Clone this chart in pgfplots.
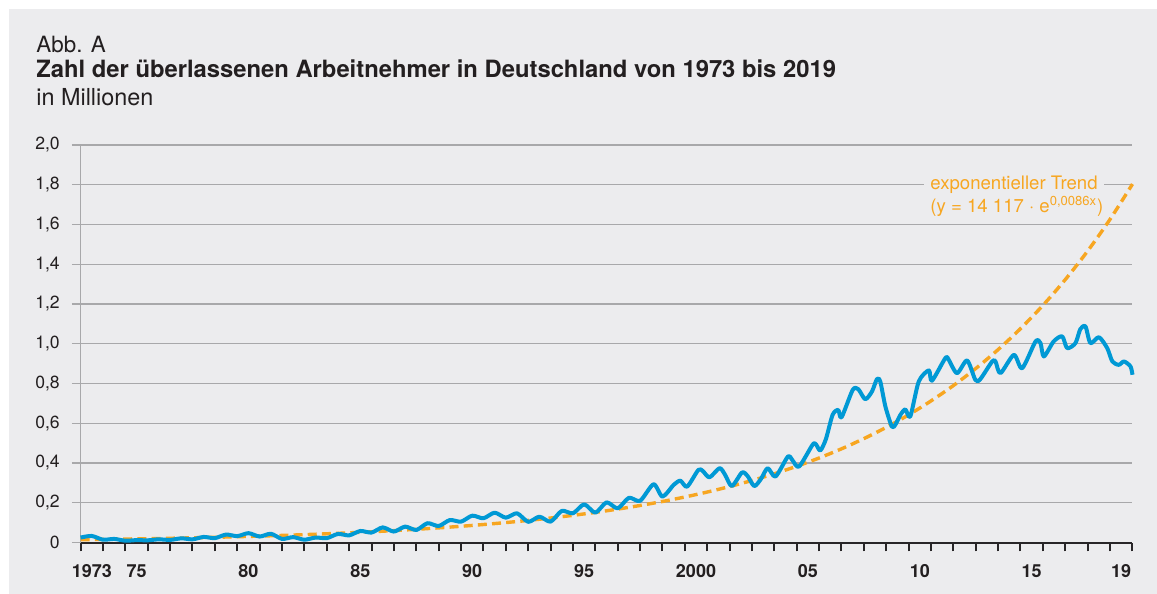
\documentclass[border=0pt]{standalone}
\usepackage{pgfplots}
\pgfplotsset{compat=1.18}
\usepackage{fontspec}
\setmainfont{TeX Gyre Heros}

\definecolor{panel}{RGB}{236,236,238}
\definecolor{gridgray}{RGB}{168,168,170}
\definecolor{axisdark}{RGB}{40,38,40}
\definecolor{textdark}{RGB}{35,31,32}
\definecolor{lineblue}{RGB}{0,153,213}
\definecolor{trendorange}{RGB}{247,166,33}

\pgfplotstableread{
x y
1973.0 0.025
1973.5 0.033
1974.0 0.014
1974.5 0.018
1975.0 0.009
1975.5 0.012
1976.0 0.011
1976.5 0.016
1977.0 0.013
1977.5 0.021
1978.0 0.016
1978.5 0.028
1979.0 0.022
1979.5 0.040
1980.0 0.032
1980.5 0.047
1981.0 0.030
1981.5 0.044
1982.0 0.018
1982.5 0.027
1983.0 0.014
1983.5 0.025
1984.0 0.022
1984.5 0.043
1985.0 0.036
1985.5 0.058
1986.0 0.050
1986.5 0.076
1987.0 0.055
1987.5 0.080
1988.0 0.063
1988.5 0.097
1989.0 0.083
1989.5 0.113
1990.0 0.105
1990.5 0.135
1991.0 0.122
1991.5 0.150
1992.0 0.125
1992.5 0.147
1993.0 0.104
1993.5 0.130
1994.0 0.105
1994.5 0.159
1995.0 0.147
1995.5 0.192
1996.0 0.150
1996.5 0.202
1997.0 0.172
1997.5 0.225
1998.0 0.210
1998.6 0.293
1999.0 0.231
1999.5 0.290
1999.8 0.311
2000.1 0.281
2000.6 0.365
2000.8 0.360
2001.1 0.328
2001.55 0.374
2001.8 0.340
2002.1 0.284
2002.55 0.352
2002.8 0.335
2003.1 0.284
2003.4 0.320
2003.7 0.374
2004.05 0.332
2004.6 0.432
2004.8 0.415
2005.1 0.382
2005.7 0.491
2005.85 0.495
2006.05 0.463
2006.3 0.520
2006.6 0.642
2006.85 0.667
2007.0 0.630
2007.5 0.768
2007.75 0.771
2008.06 0.721
2008.36 0.760
2008.58 0.822
2008.73 0.810
2008.96 0.684
2009.25 0.583
2009.4 0.592
2009.63 0.642
2009.85 0.670
2010.07 0.634
2010.45 0.810
2010.9 0.866
2011.04 0.814
2011.64 0.928
2011.79 0.919
2012.16 0.852
2012.61 0.916
2012.98 0.818
2013.2 0.822
2013.73 0.911
2013.88 0.911
2014.1 0.852
2014.7 0.944
2015.07 0.877
2015.67 1.012
2015.89 1.003
2016.04 0.936
2016.48 1.012
2016.86 1.037
2017.08 0.978
2017.45 1.003
2017.67 1.074
2017.9 1.087
2018.12 1.003
2018.5 1.033
2018.87 0.978
2019.1 0.911
2019.39 0.894
2019.62 0.911
2019.91 0.886
2020.0 0.844
}\leihdata

% exponentieller Trend, Jahreswerte
\pgfplotstableread{
x y
1973 0.0141
1974 0.0157
1975 0.0174
1976 0.0192
1977 0.0213
1978 0.0237
1979 0.0262
1980 0.0291
1981 0.0322
1982 0.0357
1983 0.0396
1984 0.0439
1985 0.0487
1986 0.0540
1987 0.0599
1988 0.0664
1989 0.0736
1990 0.0816
1991 0.0905
1992 0.1003
1993 0.1112
1994 0.1233
1995 0.1367
1996 0.1515
1997 0.1680
1998 0.1863
1999 0.2065
2000 0.2290
2001 0.2539
2002 0.2815
2003 0.3121
2004 0.3460
2005 0.3836
2006 0.4253
2007 0.4715
2008 0.5228
2009 0.5796
2010 0.6426
2011 0.7125
2012 0.7899
2013 0.8758
2014 0.9710
2015 1.0765
2016 1.1936
2017 1.3233
2018 1.4672
2019 1.6267
2020 1.8035
}\trenddata

\begin{document}
\begin{tikzpicture}
\path[use as bounding box] (0,0) rectangle (578.5pt,-297pt);
\fill[panel] (4.5pt,-4.5pt) rectangle (578.5pt,-297pt);

\node[anchor=base west, inner sep=0pt, text=textdark, font=\fontsize{11.2}{13}\selectfont] at (18pt,-26.15pt) {Abb. A};
\node[anchor=base west, inner sep=0pt, text=textdark, font=\bfseries\fontsize{11.9}{13}\selectfont] at (18pt,-38.85pt) {Zahl der überlassenen Arbeitnehmer in Deutschland von 1973 bis 2019};
\node[anchor=base west, inner sep=0pt, text=textdark, font=\fontsize{11.7}{13}\selectfont] at (18pt,-52.5pt) {in Millionen};

\begin{axis}[
    at={(40.3pt,-271.25pt)}, anchor=south west,
    scale only axis, width=525.95pt, height=198.75pt,
    xmin=1973, xmax=2020, ymin=0, ymax=2,
    clip=false,
    axis x line*=bottom, axis y line*=left,
    x axis line style={draw=axisdark, line width=1pt},
    y axis line style={draw=gridgray, line width=0.7pt},
    xtick={1973,...,2020},
    xticklabels={{1973},{},{75},{},{},{},{},{80},{},{},{},{},{85},{},{},{},{},{90},{},{},{},{},{95},{},{},{},{},{2000},{},{},{},{},{05},{},{},{},{},{10},{},{},{},{},{15},{},{},{},{19},{}},
    ytick={0,0.2,0.4,0.6,0.8,1,1.2,1.4,1.6,1.8,2},
    yticklabels={0,{0,2},{0,4},{0,6},{0,8},{1,0},{1,2},{1,4},{1,6},{1,8},{2,0}},
    ymajorgrids,
    grid style={draw=gridgray, line width=0.7pt},
    tick align=outside,
    major tick length=4.4pt,
    xtick style={draw=axisdark, line width=1pt},
    ytick style={draw=gridgray, line width=0.7pt},
    /pgf/number format/assume math mode=true,
    xticklabel style={font=\bfseries\fontsize{9}{10}\selectfont, text=textdark, xshift=5.59pt, yshift=-3pt},
    yticklabel style={font=\fontsize{8.8}{10}\selectfont, text=textdark, xshift=-2.5pt},
]
\addplot[trendorange, line width=1.7pt, dash pattern=on 4.5pt off 2.6pt, smooth, no markers] table[x=x, y=y] {\trenddata};
\addplot[lineblue, line width=2pt, smooth, tension=0.45, no markers, line join=round] table[x=x, y=y] {\leihdata};
\end{axis}

\node[anchor=base west, fill=panel, inner xsep=3pt, inner ysep=1.5pt, text=trendorange, font=\fontsize{9.3}{10}\selectfont] at (462pt,-94.65pt) {exponentieller Trend};
\node[anchor=base west, inner sep=0pt, text=trendorange, font=\fontsize{9.3}{10}\selectfont] at (465pt,-106.4pt) {(y = 14 117 · e\textsuperscript{0,0086x})};
\end{tikzpicture}
\end{document}
